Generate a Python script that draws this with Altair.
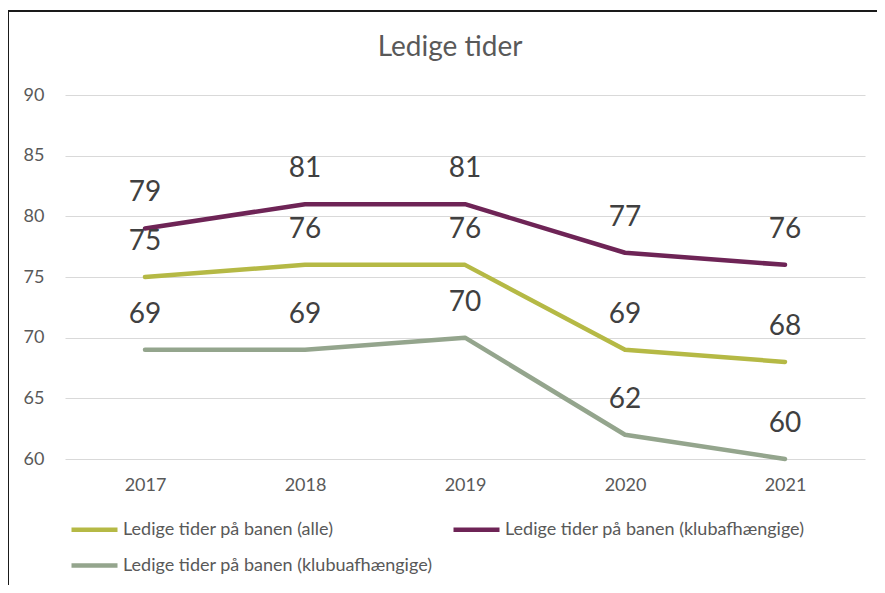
import altair as alt
import pandas as pd

years = ["2017", "2018", "2019", "2020", "2021"]
series_names = [
    "Ledige tider på banen (alle)",
    "Ledige tider på banen (klubuafhængige)",
    "Ledige tider på banen (klubafhængige)",
]
alle = [75, 76, 76, 69, 68]
klubuafh = [69, 69, 70, 62, 60]
klubafh = [79, 81, 81, 77, 76]
colors = ["#B5B945", "#94A58D", "#6E2456"]
y_ticks = [60, 65, 70, 75, 80, 85, 90]

rows = []
for name, vals in zip(series_names, [alle, klubuafh, klubafh]):
    for yr, v in zip(years, vals):
        rows.append({"year": yr, "value": v, "series": name})
df = pd.DataFrame(rows)

FONT = "Lato"

x_enc = alt.X("year:O", sort=years, scale=alt.Scale(type="point", padding=0.5),
              axis=alt.Axis(title=None, labelAngle=0, domain=False, ticks=False,
                            labelPadding=17, labelFontSize=18, labelColor="#595959",
                            labelFont=FONT))
y_enc = alt.Y("value:Q", scale=alt.Scale(domain=[60, 90], nice=False, zero=False),
              axis=alt.Axis(title=None, values=y_ticks, domain=False, ticks=False,
                            grid=True, gridColor="#D9D9D9", gridWidth=1,
                            labelPadding=21, labelFontSize=18, labelColor="#595959",
                            labelFont=FONT))
color_enc = alt.Color("series:N", scale=alt.Scale(domain=series_names, range=colors),
                      legend=alt.Legend(title=None, orient="none", legendX=4, legendY=409,
                                        columns=2, columnPadding=11, rowPadding=1,
                                        symbolType="stroke", symbolSize=2116,
                                        symbolStrokeWidth=4.5, labelOffset=3,
                                        labelFontSize=18, labelColor="#595959",
                                        labelFont=FONT, labelLimit=500))

base = alt.Chart(df)
lines = base.mark_line(strokeWidth=4.5, strokeCap="round", strokeJoin="round").encode(
    x=x_enc, y=y_enc, color=color_enc)
labels = base.mark_text(dy=-35, fontSize=28, color="#404040", font=FONT).encode(
    x=alt.X("year:O", sort=years), y="value:Q", text="value:Q")

frame_data = alt.Data(values=[{"k": 1}])
top_border = alt.Chart(frame_data).mark_rule(color="#1a1a1a", strokeWidth=2).encode(
    x=alt.value(-60), x2=alt.value(830), y=alt.value(-84))
left_border = alt.Chart(frame_data).mark_rule(color="#1a1a1a", strokeWidth=2).encode(
    x=alt.value(-57), y=alt.value(-84), y2=alt.value(500))

chart = alt.layer(lines, labels, top_border, left_border).properties(
    width=800, height=364,
    title=alt.TitleParams("Ledige tider", fontSize=28, font=FONT, color="#595959",
                          fontWeight="normal", anchor="middle", dx=-15, offset=-52),
    autosize=alt.AutoSizeParams(type="none"),
    padding={"left": 57, "top": 87, "right": 12, "bottom": 126},
).configure_view(stroke=None)

chart.save("out.html", embed_options={"renderer": "svg", "actions": False})
